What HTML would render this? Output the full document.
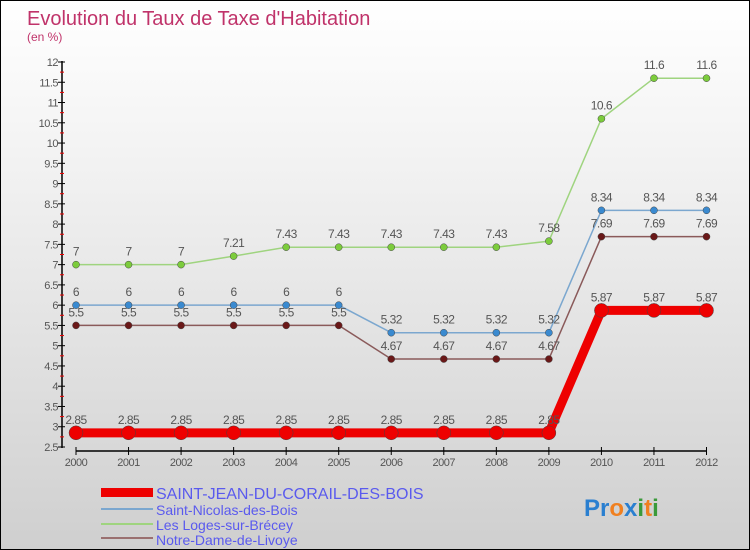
<!DOCTYPE html>
<html><head><meta charset="utf-8"><style>
body{margin:0}
#c{width:748px;height:548px;border:1px solid #000;background:linear-gradient(#fff,#f2f2f2 30%,#cfcfcf);position:relative;overflow:hidden;font-family:"Liberation Sans",sans-serif}
</style></head><body>
<div id="c">
<svg id="s" width="748" height="548">
<text x="26" y="24" font-size="20" fill="#c0336a">Evolution du Taux de Taxe d'Habitation</text>
<text x="26" y="40" font-size="12" fill="#c0336a">(en %)</text>
<g id="ax"></g><g id="series"></g>
<g>
<rect x="100" y="487" width="52" height="9" fill="#e00"/>
<text x="155" y="498" font-size="16" fill="#5a5aee">SAINT-JEAN-DU-CORAIL-DES-BOIS</text>
<rect x="100" y="507" width="52" height="2" fill="#7ba7cf"/>
<text x="155" y="514" font-size="14" fill="#5a5aee">Saint-Nicolas-des-Bois</text>
<rect x="100" y="522" width="52" height="2" fill="#9fd47f"/>
<text x="155" y="529" font-size="14" fill="#5a5aee">Les Loges-sur-Brécey</text>
<rect x="100" y="536" width="52" height="2" fill="#9a7070"/>
<text x="155" y="544" font-size="14" fill="#5a5aee">Notre-Dame-de-Livoye</text>
</g>
<text x="583" y="515" font-size="24" font-weight="bold"><tspan fill="#2a7fd0">Pr</tspan><tspan fill="#f08020">o</tspan><tspan fill="#2a7fd0">x</tspan><tspan fill="#3a9a3a">i</tspan><tspan fill="#f08020">t</tspan><tspan fill="#3a9a3a">i</tspan></text>
</svg></div>
<script>
const years=[2000,2001,2002,2003,2004,2005,2006,2007,2008,2009,2010,2011,2012];
const saintJean=[2.85,2.85,2.85,2.85,2.85,2.85,2.85,2.85,2.85,2.85,5.87,5.87,5.87];
const saintNicolas=[6,6,6,6,6,6,5.32,5.32,5.32,5.32,8.34,8.34,8.34];
const lesLoges=[7,7,7,7.21,7.43,7.43,7.43,7.43,7.43,7.58,10.6,11.6,11.6];
const notreDame=[5.5,5.5,5.5,5.5,5.5,5.5,4.67,4.67,4.67,4.67,7.69,7.69,7.69];
const yTicks=[2.5,3,3.5,4,4.5,5,5.5,6,6.5,7,7.5,8,8.5,9,9.5,10,10.5,11,11.5,12];
const NS="http://www.w3.org/2000/svg";
const xS=i=>75+i*(705.5-75)/12;
const yS=v=>446-(v-2.5)*(446-61)/9.5;
function mk(t,a,p){const e=document.createElementNS(NS,t);for(const k in a)e.setAttribute(k,a[k]);p.appendChild(e);return e;}
const ax=document.getElementById('ax');
let l=mk('line',{x1:61,y1:60,x2:61,y2:447,stroke:'#000','stroke-width':1.5},ax);


yTicks.forEach(v=>{
 const t=mk('line',{x1:57,x2:64,y1:yS(v),y2:yS(v),stroke:'#000'},ax);
 
 
 if(v<12){const m=mk('line',{x1:59,x2:63,y1:yS(v+0.25),y2:yS(v+0.25),stroke:'#e00'},ax);
 
 }
 const tx=mk('text',{x:57,y:yS(v)+4,'text-anchor':'end','font-size':11,fill:'#555','letter-spacing':'-0.5'},ax);
 tx.textContent=String(v);
 
 
});
l=mk('line',{x1:75,y1:450,x2:706,y2:450,stroke:'#000','stroke-width':1.5},ax);


years.forEach((y,i)=>{
 const t=mk('line',{x1:xS(i),x2:xS(i),y1:446,y2:454,stroke:'#000'},ax);
 
 
 const tx=mk('text',{x:xS(i),y:465,'text-anchor':'middle','font-size':11,fill:'#555','letter-spacing':'-0.5'},ax);
 tx.textContent=y;
 
 
});
const sg=document.getElementById('series');
function draw(data,name,col,dot,w,r){
 const g=mk('g',{},sg);
 
 
 const p=mk('polyline',{points:data.map((v,i)=>xS(i)+','+yS(v)).join(' '),fill:'none',stroke:col,'stroke-width':w},g);
 
 
 data.forEach((v,i)=>{
  const c=mk('circle',{cx:xS(i),cy:yS(v),r:r,fill:dot,stroke:'#444','stroke-width':0.5},g);
  
  
  const t=mk('text',{x:xS(i),y:yS(v)-9,'text-anchor':'middle','font-size':12,fill:'#555','letter-spacing':'-0.5'},g);
  t.textContent=String(v);
  
  
 });
}
draw(lesLoges,'les-loges','#9fd47f','#7ccc3c',1.5,3.5);
draw(saintNicolas,'saint-nicolas','#7ba7cf','#3a8ad0',1.5,3.5);
draw(notreDame,'notre-dame','#8a5a5a','#6a1818',1.5,3.5);
draw(saintJean,'saint-jean','#e00','#e00',9,7);
</script>
</body></html>
